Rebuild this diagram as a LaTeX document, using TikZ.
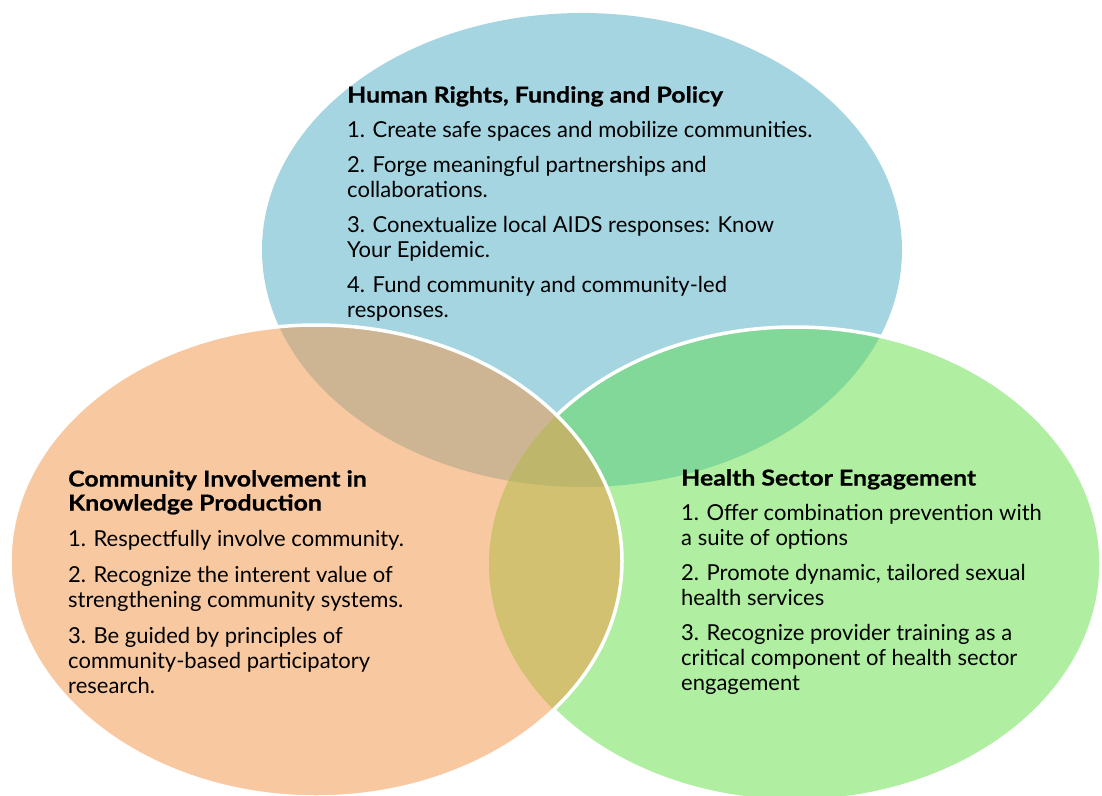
\documentclass[tikz,border=0pt]{standalone}
\usepackage{fontspec}
\setmainfont{Lato}
\newfontfamily\titlefont{Lato}[FakeStretch=1.13, FakeBold=0.6]
\definecolor{cblue}{HTML}{A6D5E2}
\definecolor{cgreen}{HTML}{B0EFA1}
\definecolor{corange}{HTML}{F8C9A1}
\definecolor{cbg}{HTML}{82D898}
\definecolor{cbo}{HTML}{CDB493}
\definecolor{cog}{HTML}{D3C172}
\definecolor{call}{HTML}{BDB66B}
\newcommand{\ttl}[1]{{\titlefont\bfseries #1}}
\begin{document}
\begin{tikzpicture}[x=1pt,y=-1pt,
  blueE/.style={insert path={(582,250) ellipse [x radius=320, y radius=237]}},
  orangeE/.style={insert path={(316,561) ellipse [x radius=306, y radius=236]}},
  greenE/.style={insert path={(795,564) ellipse [x radius=306, y radius=237]}},
  edge/.style={draw=white, line width=3.5pt},
  txt/.style={anchor=north west, align=left, inner sep=0pt, text=black,
    font=\fontsize{22}{25}\selectfont}]
\useasboundingbox (0,0) rectangle (1102,795);
\clip (0,0) rectangle (1102,795);
% base fills
\fill[cblue, blueE];
\fill[cgreen, greenE];
\begin{scope}
  \clip[blueE];
  \fill[cbg, greenE];
\end{scope}
\path[edge, greenE];
\fill[corange, orangeE];
\begin{scope}
  \clip[orangeE];
  \fill[cbo, blueE];
\end{scope}
\begin{scope}
  \clip[orangeE];
  \fill[cog, greenE];
\end{scope}
\begin{scope}
  \clip[orangeE];
  \clip[greenE];
  \fill[call, blueE];
\end{scope}
\path[edge, orangeE];
% texts
\node[txt] (hr) at (347,86) {\ttl{Human Rights, Funding and Policy}\\[10pt]
1. Create safe spaces and mobilize communities.\\[10pt]
2. Forge meaningful partnerships and\\
collaborations.\\[10pt]
3. Conextualize local AIDS responses: Know\\
Your Epidemic.\\[10pt]
4. Fund community and community-led\\
responses.};
\node[txt] (ci) at (68,470) {\ttl{Community Involvement in}\\[-1pt]
\ttl{Knowledge Production}\\[11pt]
1. Respectfully involve community.\\[11pt]
2. Recognize the interent value of\\
strengthening community systems.\\[11pt]
3. Be guided by principles of\\
community-based participatory\\
research.};
\node[txt] (hs) at (681,469) {\ttl{Health Sector Engagement}\\[10pt]
1. Offer combination prevention with\\
a suite of options\\[10pt]
2. Promote dynamic, tailored sexual\\
health services\\[10pt]
3. Recognize provider training as a\\
critical component of health sector\\
engagement};
\end{tikzpicture}
\end{document}
